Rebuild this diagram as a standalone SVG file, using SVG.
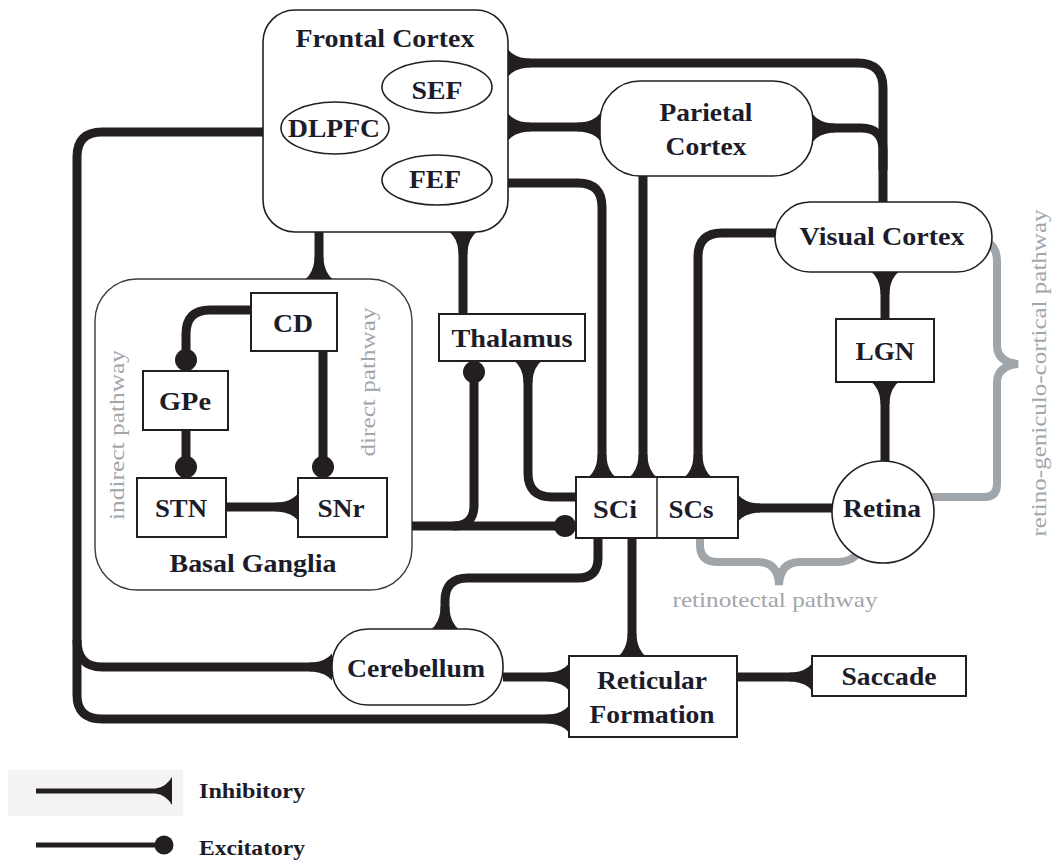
<svg xmlns="http://www.w3.org/2000/svg" width="1053" height="865" viewBox="0 0 1053 865">
<style>
.ln{fill:none;stroke:#231f20;stroke-width:9;stroke-linejoin:round}
.i{marker-end:url(#inh)}
.dot{fill:#231f20}
.box{fill:#fff;stroke:#231f20;stroke-width:2}
.rnd{fill:#fff;stroke:#231f20;stroke-width:1.6}
.bgbox{fill:#fff;stroke:#3a3a3a;stroke-width:1.4}
.t{font-family:"Liberation Serif","Times New Roman",serif;font-weight:bold;font-size:26px;fill:#1c1c2a;text-anchor:middle}
.lab{font-family:"Liberation Serif","Times New Roman",serif;font-size:22px;fill:#a2a6ab;text-anchor:middle}
.br{fill:none;stroke:#a0a5aa;stroke-width:8}
.leg{font-family:"Liberation Serif","Times New Roman",serif;font-weight:bold;font-size:22px;fill:#1c1c2a}
</style>
<defs>
<marker id="inh" markerUnits="userSpaceOnUse" viewBox="-24 -15 25 30" refX="0" refY="0" markerWidth="25" markerHeight="30" orient="auto" overflow="visible">
<path d="M -22,-4.5 L -19,-4.5 Q -6,-6 0,-13.5 L 0,13.5 Q -6,6 -19,4.5 L -22,4.5 Z" fill="#231f20"/>
</marker>
</defs>
<rect width="1053" height="865" fill="#fff"/>

<g id="basal-ganglia">
<rect class="bgbox" x="95" y="279" width="317" height="311" rx="42"/>
<text class="t" x="253" y="572" textLength="167" lengthAdjust="spacingAndGlyphs">Basal Ganglia</text>
<text class="lab" transform="translate(124,435) rotate(-90)" textLength="170" lengthAdjust="spacingAndGlyphs">indirect pathway</text>
<text class="lab" transform="translate(375,382) rotate(-90)" textLength="149" lengthAdjust="spacingAndGlyphs">direct pathway</text>
</g>

<g id="pathways">
<path class="br" d="M 700,538 L 700,545 Q 700,562 718,562 L 758,562 Q 778,562 779,585 Q 780,562 800,562 L 838,562 Q 852,562 860,551"/>
<path class="br" d="M 988,243 Q 997,247 997,262 L 997,345 Q 997,362 1018,364 Q 997,366 997,383 L 997,484 Q 997,497 984,497 L 931,497"/>
<text class="lab" x="775" y="607" textLength="205" lengthAdjust="spacingAndGlyphs">retinotectal pathway</text>
<text class="lab" transform="translate(1046,373) rotate(-90)" textLength="327" lengthAdjust="spacingAndGlyphs">retino-geniculo-cortical pathway</text>
</g>

<g id="connectors">
<!-- Visual -> Frontal -->
<path class="ln i" d="M 883,202 L 883,88 Q 883,63 858,63 L 508,63"/>
<!-- Visual -> Parietal -->
<path class="ln i" d="M 883,170 L 883,150 Q 883,128 861,128 L 813,128"/>
<!-- Parietal <-> Frontal -->
<path class="ln i" d="M 554,127 L 508,127"/>
<path class="ln i" d="M 554,127 L 600,127"/>
<!-- Frontal (FEF) -> SCi -->
<path class="ln i" d="M 508,183 L 578,183 Q 602,183 602,207 L 602,477"/>
<!-- Parietal -> SCi -->
<path class="ln i" d="M 643,176 L 643,477"/>
<!-- Visual -> SCs -->
<path class="ln i" d="M 775,233 L 722,233 Q 698,233 698,257 L 698,477"/>
<!-- LGN -> Visual -->
<path class="ln i" d="M 885,319 L 885,272"/>
<!-- Retina -> LGN -->
<path class="ln i" d="M 885,462 L 885,382"/>
<!-- Retina -> SCs -->
<path class="ln i" d="M 833,508 L 738,508"/>
<!-- Frontal -> Basal Ganglia -->
<path class="ln i" d="M 319,232 L 319,279"/>
<!-- Thalamus -> Frontal -->
<path class="ln i" d="M 463,314 L 463,232"/>
<!-- SNr -> SCi and Thalamus -->
<path class="ln" d="M 412,526 L 566,526"/>
<circle class="dot" cx="565" cy="526" r="11"/>
<path class="ln" d="M 474,372 L 474,505 Q 474,526 453,526"/>
<circle class="dot" cx="474" cy="372" r="11"/>
<!-- SCi -> Thalamus -->
<path class="ln i" d="M 576,497 L 552,497 Q 528,497 528,473 L 528,361"/>
<!-- SCi -> Cerebellum -->
<path class="ln i" d="M 598,538 L 598,558 Q 598,578 578,578 L 468,578 Q 445,578 445,601 L 445,629"/>
<!-- SCi -> Reticular Formation -->
<path class="ln i" d="M 632,538 L 632,656"/>
<!-- Cerebellum -> Reticular Formation -->
<path class="ln i" d="M 503,677 L 569,677"/>
<!-- Reticular Formation -> Saccade -->
<path class="ln i" d="M 737,677 L 812,677"/>
<!-- Frontal -> Cerebellum / Reticular Formation -->
<path class="ln i" d="M 263,132 L 102,132 Q 77,132 77,157 L 77,695 Q 77,719 102,719 L 569,719"/>
<path class="ln i" d="M 77,640 Q 77,667 102,667 L 332,667"/>
<!-- Basal ganglia internal -->
<path class="ln" d="M 251,310 L 210,310 Q 186,310 186,334 L 186,360"/>
<circle class="dot" cx="186" cy="360" r="11"/>
<path class="ln" d="M 323,351 L 323,467"/>
<circle class="dot" cx="323" cy="467" r="11"/>
<path class="ln" d="M 186,430 L 186,467"/>
<circle class="dot" cx="186" cy="467" r="11"/>
<path class="ln i" d="M 226,507 L 298,507"/>
</g>

<g id="frontal-cortex">
<rect class="rnd" x="263" y="10" width="245" height="222" rx="32"/>
<text class="t" x="385" y="47" textLength="179" lengthAdjust="spacingAndGlyphs">Frontal Cortex</text>
</g>
<g id="sef">
<ellipse class="rnd" cx="437" cy="87" rx="55" ry="26"/>
<text class="t" x="437" y="99" textLength="51" lengthAdjust="spacingAndGlyphs">SEF</text>
</g>
<g id="dlpfc">
<ellipse class="rnd" cx="335" cy="128" rx="54" ry="26"/>
<text class="t" x="334" y="137" textLength="92" lengthAdjust="spacingAndGlyphs">DLPFC</text>
</g>
<g id="fef">
<ellipse class="rnd" cx="437" cy="180" rx="55" ry="25"/>
<text class="t" x="435" y="188" textLength="52" lengthAdjust="spacingAndGlyphs">FEF</text>
</g>
<g id="parietal-cortex">
<rect class="rnd" x="600" y="81" width="213" height="95" rx="40"/>
<text class="t" x="706" y="121" textLength="93" lengthAdjust="spacingAndGlyphs">Parietal</text>
<text class="t" x="706" y="155" textLength="81" lengthAdjust="spacingAndGlyphs">Cortex</text>
</g>
<g id="visual-cortex">
<rect class="rnd" x="775" y="202" width="217" height="70" rx="35"/>
<text class="t" x="882" y="245" textLength="165" lengthAdjust="spacingAndGlyphs">Visual Cortex</text>
</g>
<g id="lgn">
<rect class="box" x="836" y="319" width="98" height="63"/>
<text class="t" x="885" y="360" textLength="59" lengthAdjust="spacingAndGlyphs">LGN</text>
</g>
<g id="retina">
<circle class="rnd" cx="883" cy="512" r="51"/>
<text class="t" x="882" y="517" textLength="78" lengthAdjust="spacingAndGlyphs">Retina</text>
</g>
<g id="thalamus">
<rect class="box" x="439" y="314" width="146" height="47"/>
<text class="t" x="512" y="347" textLength="121" lengthAdjust="spacingAndGlyphs">Thalamus</text>
</g>
<g id="sc">
<rect class="box" x="576" y="477" width="162" height="61"/>
<line x1="657" y1="477" x2="657" y2="538" stroke="#231f20" stroke-width="1.5"/>
<text class="t" x="615" y="518" textLength="44" lengthAdjust="spacingAndGlyphs">SCi</text>
<text class="t" x="691" y="518" textLength="45" lengthAdjust="spacingAndGlyphs">SCs</text>
</g>
<g id="cd">
<rect class="box" x="251" y="293" width="86" height="58"/>
<text class="t" x="293" y="332" textLength="40" lengthAdjust="spacingAndGlyphs">CD</text>
</g>
<g id="gpe">
<rect class="box" x="143" y="371" width="85" height="59"/>
<text class="t" x="185" y="410" textLength="52" lengthAdjust="spacingAndGlyphs">GPe</text>
</g>
<g id="stn">
<rect class="box" x="137" y="478" width="89" height="59"/>
<text class="t" x="181" y="517" textLength="52" lengthAdjust="spacingAndGlyphs">STN</text>
</g>
<g id="snr">
<rect class="box" x="298" y="478" width="89" height="59"/>
<text class="t" x="341" y="517" textLength="47" lengthAdjust="spacingAndGlyphs">SNr</text>
</g>
<g id="cerebellum">
<rect class="rnd" x="332" y="629" width="171" height="76" rx="36"/>
<text class="t" x="416" y="677" textLength="138" lengthAdjust="spacingAndGlyphs">Cerebellum</text>
</g>
<g id="reticular-formation">
<rect class="box" x="569" y="656" width="168" height="81"/>
<text class="t" x="652" y="689" textLength="110" lengthAdjust="spacingAndGlyphs">Reticular</text>
<text class="t" x="652" y="723" textLength="125" lengthAdjust="spacingAndGlyphs">Formation</text>
</g>
<g id="saccade">
<rect class="box" x="812" y="656" width="154" height="40"/>
<text class="t" x="889" y="685" textLength="95" lengthAdjust="spacingAndGlyphs">Saccade</text>
</g>

<g id="legend">
<rect x="8" y="770" width="175" height="46" fill="#f4f2f4"/>
<line x1="36" y1="791" x2="166" y2="791" stroke="#231f20" stroke-width="5"/>
<path d="M 156,788.5 Q 166,787 172,777 L 172,805 Q 166,795 156,793.5 Z" fill="#231f20"/>
<text class="leg" x="199" y="798" textLength="106" lengthAdjust="spacingAndGlyphs">Inhibitory</text>
<line x1="36" y1="845" x2="160" y2="845" stroke="#231f20" stroke-width="5"/>
<circle class="dot" cx="164" cy="845" r="9.5"/>
<text class="leg" x="199" y="855" textLength="106" lengthAdjust="spacingAndGlyphs">Excitatory</text>
</g>
</svg>
